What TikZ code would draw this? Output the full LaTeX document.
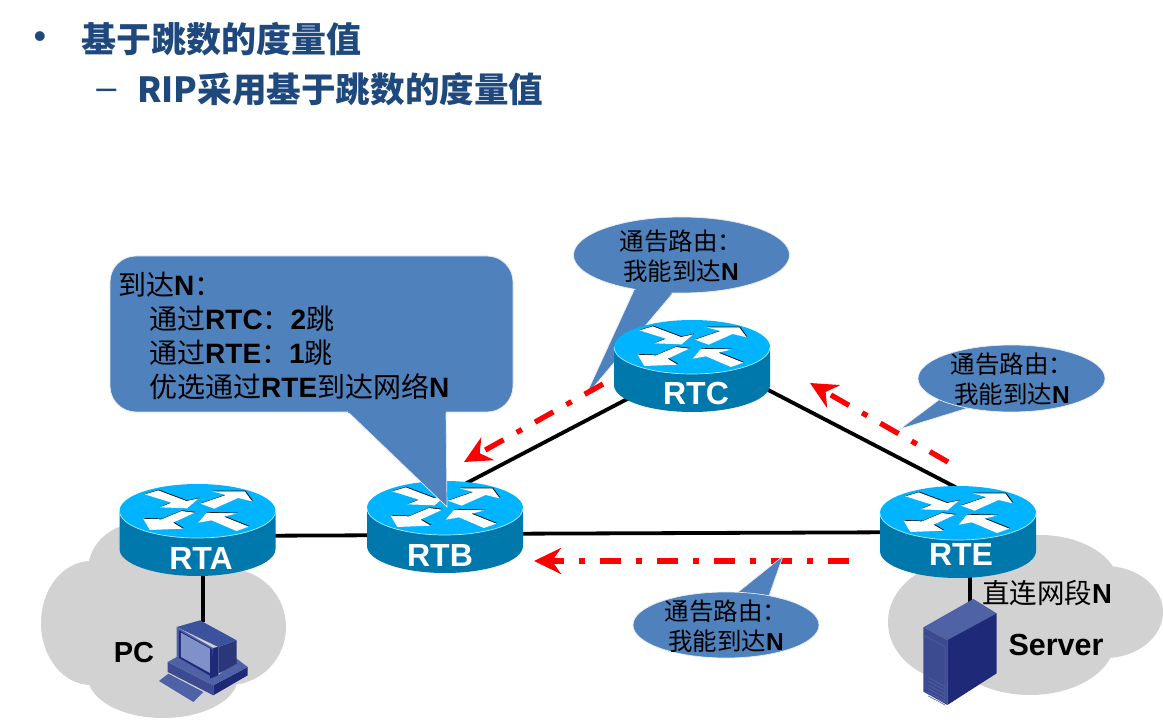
\documentclass[tikz,border=0pt]{standalone}
\usepackage{fontspec}
\usetikzlibrary{shapes.geometric,arrows.meta}
\setmainfont{Noto Sans CJK SC}
\newfontfamily\latfont{Liberation Sans}
\newcommand\lb[1]{{\latfont\bfseries #1}}
\pgfdeclarelayer{cloudlayer}
\pgfdeclarelayer{linelayer}
\pgfsetlayers{cloudlayer,linelayer,main}
\definecolor{titleblue}{HTML}{1F497D}
\definecolor{callout}{HTML}{4F81BD}
\definecolor{cloudgray}{HTML}{D2D2D2}
\definecolor{rtop}{HTML}{00B4FF}
\definecolor{rside}{HTML}{0078AC}
\definecolor{hosttop}{HTML}{4F62A6}
\definecolor{hostleft}{HTML}{3C4A90}
\definecolor{hostright}{HTML}{1E2A78}
\definecolor{hostrear}{HTML}{2A3778}
\definecolor{hostscreen}{HTML}{8090C8}
\tikzset{
  titletext/.style={anchor=base west,text=titleblue,font=\fontsize{35}{35}\selectfont\bfseries,inner sep=0},
  callshape/.style={fill=callout,draw=white!85!callout,line width=0.7pt},
  callell/.style={ellipse,callshape,inner sep=0},
  calltext/.style={inner sep=0,align=center,font=\fontsize{24.5}{30}\selectfont},
  rlabel/.style={text=white,font=\latfont\fontsize{32}{32}\selectfont\bfseries,inner sep=0},
  netlabel/.style={font=\latfont\fontsize{29}{29}\selectfont\bfseries,inner sep=0},
  wire/.style={line width=3.8pt,black},
  redarrow/.style={red,line width=5.3pt,dash pattern=on 21pt off 15pt on 6pt off 15pt,
    -{Stealth[length=27pt,width=26pt,inset=9pt]}},
}
% router: #1 x, #2 y of the centre of the top face, #3 name/label, #4 label x, #5 label y
\newcommand\myrouter[5]{%
  \begin{scope}[shift={(#1,#2)}]
    \fill[rside] (-78,0) -- (-78,38) arc[start angle=180,end angle=0,x radius=78,y radius=27] -- (78,0) -- cycle;
    \fill[rtop] (0,0) ellipse[x radius=78,y radius=27];
    \draw[white!70!rtop,line width=0.7pt] (-78,0) arc[start angle=180,end angle=0,x radius=78,y radius=27];
    \begin{scope}[x=0.3333pt,y=-0.3333pt,shift={(-293,-215)}]
      \foreach \dx/\fc in {2/black,0/white}{
      \fill[\fc,shift={(\dx,-\dx)}] (135,165)--(175,153)--(260,185)--(297,177)--(262,207)--(180,204)--(215,190)--cycle;
      \fill[\fc,shift={(\dx,-\dx)}] (302,193)--(378,167)--(337,156)--(435,156)--(457,186)--(415,176)--(343,208)--cycle;
      \fill[\fc,shift={(\dx,-\dx)}] (130,238)--(185,240)--(245,215)--(285,220)--(220,250)--(250,268)--(150,272)--cycle;
      \fill[\fc,shift={(\dx,-\dx)}] (295,250)--(320,220)--(412,222)--(372,232)--(447,262)--(410,275)--(335,243)--cycle;
      }
    \end{scope}
  \end{scope}
  \node[rlabel] (#3) at (#4,#5) {#3};
}
\begin{document}
\begin{tikzpicture}[x=1pt,y=-1pt]
\useasboundingbox (0,0) rectangle (1163,722);

% title
\node[text=titleblue,inner sep=0,font=\latfont\fontsize{36}{36}\selectfont] (bul) at (40,40) {•};
\node[titletext] (t1) at (81,53) {基于跳数的度量值};
\node[text=titleblue,inner sep=0,font=\latfont\fontsize{36}{36}\selectfont] (das) at (106.5,94) {–};
\node[titletext,font=\fontsize{34.6}{35}\selectfont\bfseries] (t2) at (137,103) {RIP采用基于跳数的度量值};

% clouds
\begin{pgfonlayer}{cloudlayer}
  \fill[white] (0,0) rectangle (1163,722);
  \fill[cloudgray] (140,570) ellipse[x radius=52,y radius=47];
  \fill[cloudgray] (91,623) ellipse[x radius=50,y radius=62];
  \fill[cloudgray] (229,627) ellipse[x radius=57,y radius=58];
  \fill[cloudgray] (163,677) ellipse[x radius=75,y radius=41];
  \fill[cloudgray] (160,615) ellipse[x radius=80,y radius=60];
  \fill[cloudgray] (1040,588) ellipse[x radius=80,y radius=53];
  \fill[cloudgray] (960,622) ellipse[x radius=72,y radius=60];
  \fill[cloudgray] (1105,612) ellipse[x radius=58,y radius=46];
  \fill[cloudgray] (1030,640) ellipse[x radius=85,y radius=55];
\end{pgfonlayer}

% top callout (lies under RTC)
\coordinate (tipC) at (585,397);
\fill[callshape] (tipC) -- (635,288) -- (673,293) -- cycle;
\node[callell,minimum width=216pt,minimum height=76pt] (callC) at (681.5,255) {};
\fill[callout] (634,286) -- (674,291) -- (660,300) -- (640,300) -- cycle;
\node[calltext] (callCtext) at (681,256) {通告路由：\\我能到达\lb{N}};

% routers
\myrouter{197.5}{511}{RTA}{201}{558}
\myrouter{445}{508}{RTB}{440}{555}
\myrouter{692}{347}{RTC}{696}{393}
\myrouter{958}{513}{RTE}{961}{554}

% PC
\node[netlabel] (pclabel) at (134,653) {PC};
\coordinate (pctop) at (203,622);
\begin{scope}[shift={(155,612)},x=0.3333pt,y=-0.3333pt]
  \fill[hosttop] (12,207)--(40,185)--(145,240)--(115,270)--cycle;
  \fill[hostleft] (38,150)--(175,220)--(175,250)--(38,180)--cycle;
  \fill[hostright] (175,220)--(278,165)--(278,190)--(175,250)--cycle;
  \fill[hosttop] (38,150)--(65,135)--(165,195)--(190,190)--(245,140)--(278,165)--(175,220)--cycle;
  \fill[hostrear] (190,105)--(245,85)--(245,155)--(190,185)--cycle;
  \fill[hosttop!110!white] (65,45)--(135,25)--(245,85)--(190,105)--cycle;
  \fill[hosttop] (65,45)--(175,108)--(190,105)--(190,190)--(165,200)--(65,140)--cycle;
  \fill[hostright] (175,108)--(190,105)--(190,190)--(165,200)--(165,190)--cycle;
  \fill[hostright] (72,55)--(172,112)--(172,195)--(72,138)--cycle;
  \fill[hostscreen] (78,62)--(165,110)--(165,183)--(78,135)--cycle;
\end{scope}

% Server
\node[netlabel,font=\latfont\fontsize{30.5}{30}\selectfont\bfseries] (srvlabel) at (1056,645) {Server};
\coordinate (srvtop) at (970,605);
\begin{scope}[shift={(910,595)},x=0.3333pt,y=-0.3333pt]
  \fill[hosttop] (40,97)--(190,12)--(260,55)--(112,135)--cycle;
  \fill[hostleft] (40,97)--(112,135)--(112,330)--(40,290)--cycle;
  \fill[hostright] (112,135)--(260,55)--(260,235)--(112,330)--cycle;
  \draw[hosttop,line width=0.6pt] (40,120)--(105,155)--(105,320);
  \foreach \k in {0,...,5}{
    \draw[hosttop,line width=0.6pt] (55,248+11*\k)--(105,275+11*\k);
  }
\end{scope}
\node[anchor=base west,inner sep=0,font=\fontsize{27.5}{27.5}\selectfont] (netN) at (982,603) {直连网段\lb{N}};

% connectors
\begin{pgfonlayer}{linelayer}
  \draw[wire] ([shift={(0,-22)}]RTA.center) -- ([shift={(0,-20)}]RTB.center);
  \draw[wire] ([shift={(0,-58)}]RTB.center) -- ([shift={(0,-30)}]RTC.center);
  \draw[wire] ([shift={(0,-21)}]RTB.center) -- ([shift={(0,-22)}]RTE.center);
  \draw[wire] ([shift={(0,-40.5)}]RTC.center) -- ([shift={(0,-64)}]RTE.center);
  \draw[wire] ([shift={(2,0)}]RTA.center) -- (pctop);
  \draw[wire] ([shift={(9,0)}]RTE.center) -- (srvtop);
\end{pgfonlayer}

% RTB callout
\coordinate (tipB) at (447,507);
\fill[callshape] (tipB) -- (347,411) -- (446,411) -- cycle;
\node[callshape,draw,rounded corners=26pt,minimum width=403pt,minimum height=156pt,inner sep=0] (callB) at (311.5,334) {};
\fill[callout] (348,408) rectangle (445.5,413);
\node[anchor=north west,inner sep=0,align=left,font=\fontsize{28}{34}\selectfont] (callBtext) at (118,272)
  {到达\lb{N}：\\
   \hspace*{31pt}通过\lb{RTC}：\lb{2}跳\\
   \hspace*{31pt}通过\lb{RTE}：\lb{1}跳\\
   \hspace*{31pt}优选通过\lb{RTE}到达网络\lb{N}};

% red arrows
\coordinate (a1s) at (603,384);
\coordinate (a1e) at (464,462);
\coordinate (a2s) at (948,462);
\coordinate (a2e) at (810,383);
\coordinate (a3s) at (849,561);
\coordinate (a3e) at (534,561);
\draw[redarrow] (a1s) -- (a1e);
\draw[redarrow] (a2s) -- (a2e);
\draw[redarrow] (a3s) -- (a3e);

% right callout
\coordinate (tipE) at (900,429);
\fill[callshape] (tipE) -- (940,399) -- (968,408) -- cycle;
\node[callell,minimum width=187pt,minimum height=67pt] (callE) at (1011.5,378.5) {};
\fill[callout] (939,397) -- (969,407) -- (960,395) -- (945,390) -- cycle;
\node[calltext] (callEtext) at (1012,379) {通告路由：\\我能到达\lb{N}};

% bottom callout
\coordinate (tipL) at (783,556);
\fill[callshape] (tipL) -- (737,593) -- (769,596) -- cycle;
\node[callell,minimum width=186pt,minimum height=66pt] (callL) at (726,625) {};
\fill[callout] (736,594) -- (770,597) -- (760,602) -- (745,602) -- cycle;
\node[calltext] (callLtext) at (726,626) {通告路由：\\我能到达\lb{N}};
\end{tikzpicture}
\end{document}
